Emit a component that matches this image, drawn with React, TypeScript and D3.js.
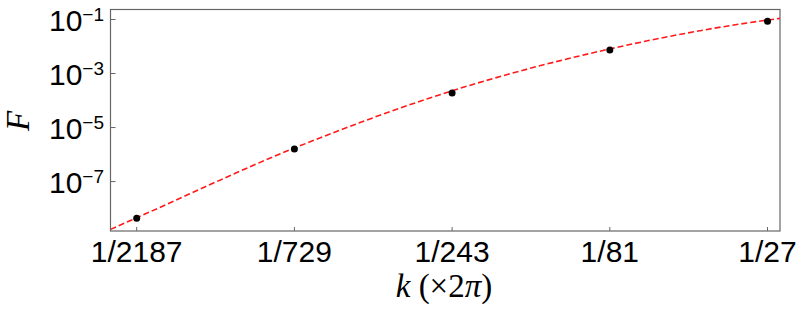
import React from "react";
import * as d3 from "d3";

// measured points
const kValues = [1 / 2187, 1 / 729, 1 / 243, 1 / 81, 1 / 27];
const fValues = [4.4e-9, 1.6e-6, 1.9e-4, 7.4e-3, 8.7e-2];

// dashed fit curve
const curveK = [3.81e-4, 1 / 2187, 1 / 729, 1 / 243, 1 / 81, 1 / 27, 0.0404];
const curveF = [1.7e-9, 4.57e-9, 1.74e-6, 2.29e-4, 8.13e-3, 9.55e-2, 0.11];

const xTickLabels = ["1/2187", "1/729", "1/243", "1/81", "1/27"];
const yTicks = [1e-1, 1e-3, 1e-5, 1e-7];
const yTickExp = ["−1", "−3", "−5", "−7"];

const width = 800;
const height = 309;
const margin = { top: 9.5, right: 20, bottom: 78, left: 110.5 };

const App = () => {
  const x = d3
    .scaleLog()
    .domain([3.81e-4, 0.0404])
    .range([margin.left, width - margin.right]);
  const y = d3
    .scaleLog()
    .domain([Math.pow(10, -8.83), Math.pow(10, -0.63)])
    .range([height - margin.bottom, margin.top]);

  const line = d3
    .line<number>()
    .x((d, i) => x(curveK[i]))
    .y((d) => y(d))
    .curve(d3.curveMonotoneX);

  const x0 = margin.left;
  const x1 = width - margin.right;
  const y0 = height - margin.bottom;
  const y1 = margin.top;

  return (
    <svg
      width={width}
      height={height}
      style={{ position: "absolute", left: 0, top: 0, background: "white" }}
    >
      <defs>
        <clipPath id="plot">
          <rect x={x0} y={y1} width={x1 - x0} height={y0 - y1} />
        </clipPath>
      </defs>
      <rect x={x0} y={y1} width={x1 - x0} height={y0 - y1} fill="none" stroke="#666" strokeWidth={1.2} />

      {kValues.map((k, i) => (
        <g key={"xt" + i}>
          <line x1={x(k)} x2={x(k)} y1={y0} y2={y0 - 4} stroke="#666" />
          <text
            x={x(k)}
            y={262}
            textAnchor="middle"
            fontFamily="Liberation Sans, Arial, sans-serif"
            fontSize={30}
          >
            {xTickLabels[i]}
          </text>
        </g>
      ))}

      {yTicks.map((t, i) => (
        <g key={"yt" + i}>
          <line x1={x0} x2={x0 + 5} y1={y(t)} y2={y(t)} stroke="#666" />
          <text
            x={104}
            y={y(t) + 11.5}
            textAnchor="end"
            fontFamily="Liberation Sans, Arial, sans-serif"
            fontSize={30}
          >
            10
            <tspan fontSize={19} dy={-10}>
              {yTickExp[i]}
            </tspan>
          </text>
        </g>
      ))}

      <path
        d={line(curveF) || ""}
        fill="none"
        stroke="#ff1a1a"
        strokeWidth={1.6}
        strokeDasharray="6,3"
        clipPath="url(#plot)"
      />

      {kValues.map((k, i) => (
        <circle key={"p" + i} cx={x(k)} cy={y(fValues[i])} r={3.5} fill="black" />
      ))}

      <text
        transform={`translate(29,121) rotate(-90)`}
        textAnchor="middle"
        fontFamily="Liberation Serif, Times New Roman, serif"
        fontStyle="italic"
        fontSize={33}
      >
        F
      </text>

      <text
        x={444}
        y={297}
        textAnchor="middle"
        fontFamily="Liberation Serif, Times New Roman, serif"
        fontSize={33}
      >
        <tspan fontStyle="italic">k</tspan> (×2<tspan fontStyle="italic">π</tspan>)
      </text>
    </svg>
  );
};

export default App;
